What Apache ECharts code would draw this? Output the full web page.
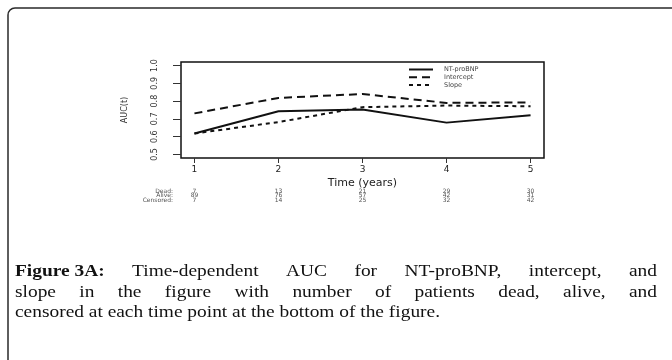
<!DOCTYPE html>
<html><head><meta charset="utf-8">
<script src="https://cdn.jsdelivr.net/npm/echarts@6/dist/echarts.min.js"></script>
<style>html,body{margin:0;padding:0;background:#fff}#c{width:672px;height:360px}</style>
</head><body><div id="c"></div>
<script>
const times = [1, 2, 3, 4, 5];
const ntProBNP = [0.618, 0.743, 0.753, 0.679, 0.721];
const intercept = [0.731, 0.818, 0.840, 0.790, 0.793];
const slope = [0.618, 0.682, 0.766, 0.775, 0.771];
const yTicks = [0.5, 0.6, 0.7, 0.8, 0.9, 1.0];
const dead = [7, 13, 21, 29, 30];
const alive = [89, 76, 57, 42, 31];
const censored = [7, 14, 25, 32, 42];
const seriesNames = ['NT-proBNP', 'Intercept', 'Slope'];

const chart = echarts.init(document.getElementById('c'), null, {renderer: 'canvas'});
const sans = '"DejaVu Sans", "Liberation Sans", sans-serif';
const pair = arr => times.map((t, i) => [t, arr[i]]);

function tableAxis(name, arr, off) {
  return {
    type: 'value', gridIndex: 0, position: 'bottom', min: 0.84, max: 5.16, offset: off,
    axisLine: {show: false}, axisTick: {show: false}, splitLine: {show: false},
    axisLabel: {customValues: times, margin: 0, verticalAlign: 'middle', fontSize: 6, color: '#555', fontFamily: sans,
      formatter: v => String(arr[Math.round(v) - 1])},
    name: name, nameLocation: 'start', nameGap: 8,
    nameTextStyle: {fontSize: 6, color: '#555', fontFamily: sans, align: 'right', verticalAlign: 'middle'}
  };
}

// caption layout
const capSize = 17;
const capFam = '"Liberation Serif"';
const ctx = document.createElement('canvas').getContext('2d');
function mw(t, bold) { ctx.font = (bold ? 'bold ' : '') + capSize + 'px ' + capFam; return ctx.measureText(t).width; }
const line1 = [['Figure 3A:', true], ['Time-dependent'], ['AUC'], ['for'], ['NT-proBNP,'], ['intercept,'], ['and']];
const line2 = 'slope in the figure with number of patients dead, alive, and'.split(' ').map(w => [w]);
const line3 = 'censored at each time point at the bottom of the figure.'.split(' ').map(w => [w]);
const capLeft = 15, capRight = 657;
const space = mw(' ');
const w3 = line3.reduce((s, w) => s + mw(w[0]), 0) + space * (line3.length - 1);
const sx = 425 / w3;
const graphics = [{
  type: 'rect', shape: {x: 8, y: 8, width: 720, height: 420, r: 7},
  style: {fill: 'none', stroke: '#2a2a2a', lineWidth: 1.5}, silent: true
}];
function layLine(words, y, justify) {
  const widths = words.map(w => mw(w[0], w[1]) * sx);
  const total = widths.reduce((a, b) => a + b, 0);
  const gap = justify ? (capRight - capLeft - total) / (words.length - 1) : space * sx;
  let x = capLeft;
  words.forEach((w, i) => {
    graphics.push({type: 'text', x: x, y: y, scaleX: sx, silent: true,
      style: {text: w[0], fontSize: capSize, fontFamily: capFam + ', serif', fontWeight: w[1] ? 'bold' : 'normal',
        fill: '#111', align: 'left', verticalAlign: 'middle'}});
    x += widths[i] + gap;
  });
}
layLine(line1, 272, true);
layLine(line2, 292.5, true);
layLine(line3, 313, false);

const option = {
  animation: false,
  backgroundColor: '#fff',
  grid: {left: 181, right: 128, top: 62, bottom: 202, show: true, borderColor: '#111', borderWidth: 1.5, backgroundColor: 'transparent'},
  legend: {
    orient: 'vertical', left: 408, top: 66, itemWidth: 24, itemHeight: 6, itemGap: 0.8, padding: 0,
    itemStyle: {opacity: 0},
    textStyle: {fontSize: 6.5, color: '#444', fontFamily: sans, padding: [0, 0, 0, 6]},
    data: seriesNames
  },
  xAxis: [{
    type: 'value', min: 0.84, max: 5.16, position: 'bottom',
    axisLine: {show: false}, splitLine: {show: false},
    axisTick: {customValues: times, length: 5, lineStyle: {color: '#333'}},
    axisLabel: {customValues: times, margin: 7, fontSize: 9, color: '#222', fontFamily: sans},
    name: 'Time (years)', nameLocation: 'middle', nameGap: 20,
    nameTextStyle: {fontSize: 11, color: '#222', fontFamily: sans}
  },
    tableAxis('Dead:', dead, 33),
    tableAxis('Alive:', alive, 37.5),
    tableAxis('Censored:', censored, 42)
  ],
  yAxis: {
    type: 'value', min: 0.48, max: 1.02,
    axisLine: {show: false}, splitLine: {show: false},
    axisTick: {customValues: yTicks, length: 8, lineStyle: {color: '#333'}},
    axisLabel: {customValues: yTicks, rotate: 90, margin: 22, fontSize: 8, color: '#333', fontFamily: sans,
      formatter: v => v.toFixed(1)},
    name: 'AUC(t)', nameLocation: 'middle', nameGap: 52, nameRotate: 90,
    nameTextStyle: {fontSize: 8, color: '#333', fontFamily: sans}
  },
  series: [
    {name: seriesNames[0], type: 'line', data: pair(ntProBNP), symbol: 'none', color: '#111',
      lineStyle: {width: 2, color: '#111', type: 'solid'}},
    {name: seriesNames[1], type: 'line', data: pair(intercept), symbol: 'none', color: '#111',
      lineStyle: {width: 2, color: '#111', type: [8, 5]}},
    {name: seriesNames[2], type: 'line', data: pair(slope), symbol: 'none', color: '#111',
      lineStyle: {width: 2, color: '#111', type: [4, 4]}}
  ],
  graphic: graphics
};
chart.setOption(option);
</script></body></html>
